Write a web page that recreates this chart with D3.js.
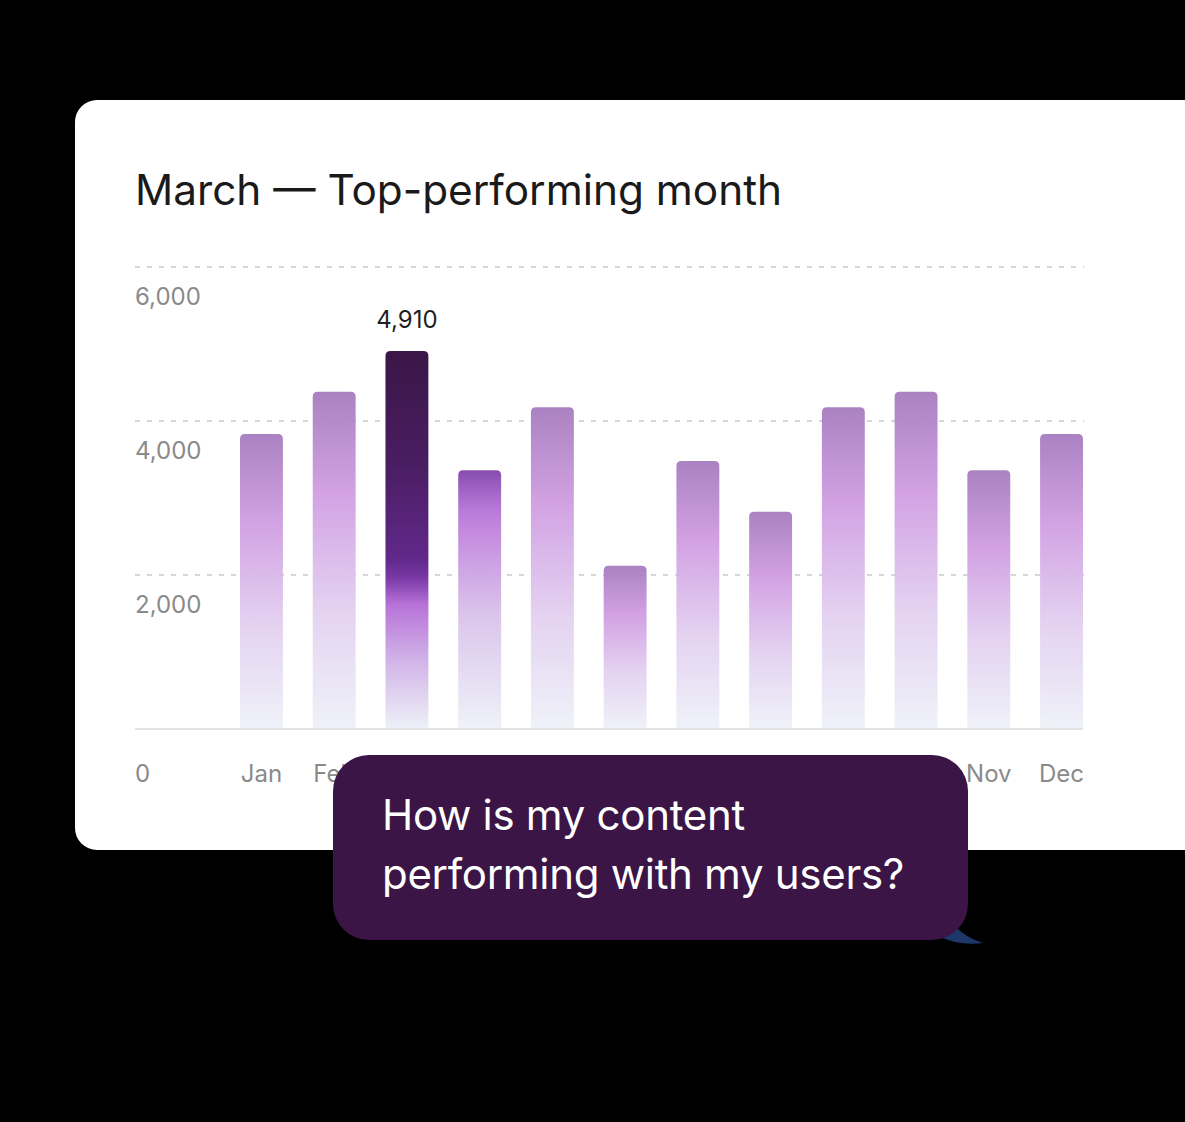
<!DOCTYPE html>
<html>
<head>
<meta charset="utf-8">
<script src="https://cdn.jsdelivr.net/npm/d3@7"></script>
<style>
  html, body { margin: 0; padding: 0; background: #000; }
  svg { display: block; font-family: Inter, "Noto Sans", sans-serif; }
</style>
</head>
<body>
<div id="viz"></div>
<script>
// chart data
var months = ["Jan", "Feb", "Mar", "Apr", "May", "Jun", "Jul", "Aug", "Sep", "Oct", "Nov", "Dec"];
var visits = [3830, 4380, 4910, 3360, 4180, 2120, 3480, 2820, 4180, 4380, 3360, 3830];
var yTicks = [0, 2000, 4000, 6000];
var title = "March \u2014 Top-performing month";
var question = ["How is my content", "performing with my users?"];

var W = 1185, H = 1122;
var svg = d3.select("#viz").append("svg")
  .attr("width", W)
  .attr("height", H);

// card
svg.append("rect")
  .attr("x", 75).attr("y", 100)
  .attr("width", 1200).attr("height", 750)
  .attr("rx", 22)
  .attr("fill", "#fff");

svg.append("text")
  .attr("x", 135).attr("y", 205)
  .attr("font-size", 42.3)
  .attr("fill", "#1a1a1a")
  .text(title);

// scales
var x = d3.scaleBand()
  .domain(months)
  .range([240, 1083])
  .paddingInner(0.41)
  .paddingOuter(0);
var y = d3.scaleLinear()
  .domain([0, 6000])
  .range([729, 267]);

// gradients - one default, one for the top month, one for the month after
var defs = svg.append("defs");
var gradStyles = {
  base: [[0, "#a478bd"], [0.3, "#cf9be1"], [0.65, "#e2cff0"], [1, "#eef1f8"]],
  top: [[0, "#3a1646"], [0.3, "#4a1d62"], [0.55, "#60288a"], [0.6, "#7a38a6"], [0.67, "#b672d8"], [0.82, "#d2b4e8"], [1, "#eef1f8"]],
  next: [[0, "#7f3fab"], [0.15, "#b26fd5"], [0.25, "#c184dc"], [0.55, "#d7bfe9"], [1, "#eef1f8"]]
};
Object.keys(gradStyles).forEach(function(k) {
  defs.append("linearGradient")
    .attr("id", "grad-" + k)
    .attr("x1", 0).attr("y1", 0).attr("x2", 0).attr("y2", 1)
  .selectAll("stop")
    .data(gradStyles[k])
    .join("stop")
      .attr("offset", function(d) { return d[0]; })
      .attr("stop-color", function(d) { return d[1]; });
});

var maxIdx = visits.indexOf(d3.max(visits));
function gradFor(i) {
  if (i == maxIdx) return "url(#grad-top)";
  if (i == maxIdx + 1) return "url(#grad-next)";
  return "url(#grad-base)";
}

// gridlines go under the bars, bars are a touch see-through
svg.selectAll(".grid")
  .data(yTicks.filter(function(t) { return t > 0; }))
  .join("line")
    .attr("class", "grid")
    .attr("x1", 135).attr("x2", 1084)
    .attr("y1", function(d) { return y(d); })
    .attr("y2", function(d) { return y(d); })
    .attr("stroke", "#d6d6d6")
    .attr("stroke-width", 2)
    .attr("stroke-dasharray", "5,7");

// bars with rounded top corners only
var r = 5;
function barPath(d, i) {
  var x0 = x(months[i]), w = x.bandwidth(), y0 = y(d), yb = y(0);
  return "M" + x0 + "," + yb +
    "V" + (y0 + r) +
    "Q" + x0 + "," + y0 + " " + (x0 + r) + "," + y0 +
    "H" + (x0 + w - r) +
    "Q" + (x0 + w) + "," + y0 + " " + (x0 + w) + "," + (y0 + r) +
    "V" + yb + "Z";
}
svg.selectAll(".bar")
  .data(visits)
  .join("path")
    .attr("class", "bar")
    .attr("d", barPath)
    .attr("fill", function(d, i) { return gradFor(i); })
    .attr("fill-opacity", function(d, i) { return i == maxIdx ? 1 : 0.93; });

svg.append("line")
  .attr("x1", 135).attr("x2", 1083)
  .attr("y1", y(0)).attr("y2", y(0))
  .attr("stroke", "#e4e4e4")
  .attr("stroke-width", 2);

// y labels sit under their gridline; 0 goes on the month row
svg.selectAll(".ylab")
  .data(yTicks)
  .join("text")
    .attr("class", "ylab")
    .attr("x", 135)
    .attr("y", function(d) { return d == 0 ? y(0) + 53 : y(d) + 38; })
    .attr("font-size", 24)
    .attr("fill", "#8a8a8a")
    .text(function(d) { return d3.format(",")(d); });

// month labels
svg.selectAll(".xlab")
  .data(months)
  .join("text")
    .attr("class", "xlab")
    .attr("x", function(d) { return x(d) + x.bandwidth() / 2; })
    .attr("y", y(0) + 53)
    .attr("text-anchor", "middle")
    .attr("font-size", 24)
    .attr("fill", "#8a8a8a")
    .text(function(d) { return d; });

// value label on top month
svg.append("text")
  .attr("x", x(months[maxIdx]) + x.bandwidth() / 2)
  .attr("y", y(visits[maxIdx]) - 23)
  .attr("text-anchor", "middle")
  .attr("font-size", 24)
  .attr("fill", "#1f1f1f")
  .text(d3.format(",")(visits[maxIdx]));

// speech bubble
svg.append("path")
  .attr("d", "M944,900 Q948,932 983,943 Q958,946 938,936 Z")
  .attr("fill", "#1d3868");
svg.append("rect")
  .attr("x", 333).attr("y", 755)
  .attr("width", 635).attr("height", 185)
  .attr("rx", 36)
  .attr("fill", "#3a1546");
svg.selectAll(".q")
  .data(question)
  .join("text")
    .attr("class", "q")
    .attr("x", 382)
    .attr("y", function(d, i) { return 830 + i * 59; })
    .attr("font-size", 42)
    .attr("letter-spacing", -0.3)
    .attr("fill", "#fff")
    .text(function(d) { return d; });
</script>
</body>
</html>
